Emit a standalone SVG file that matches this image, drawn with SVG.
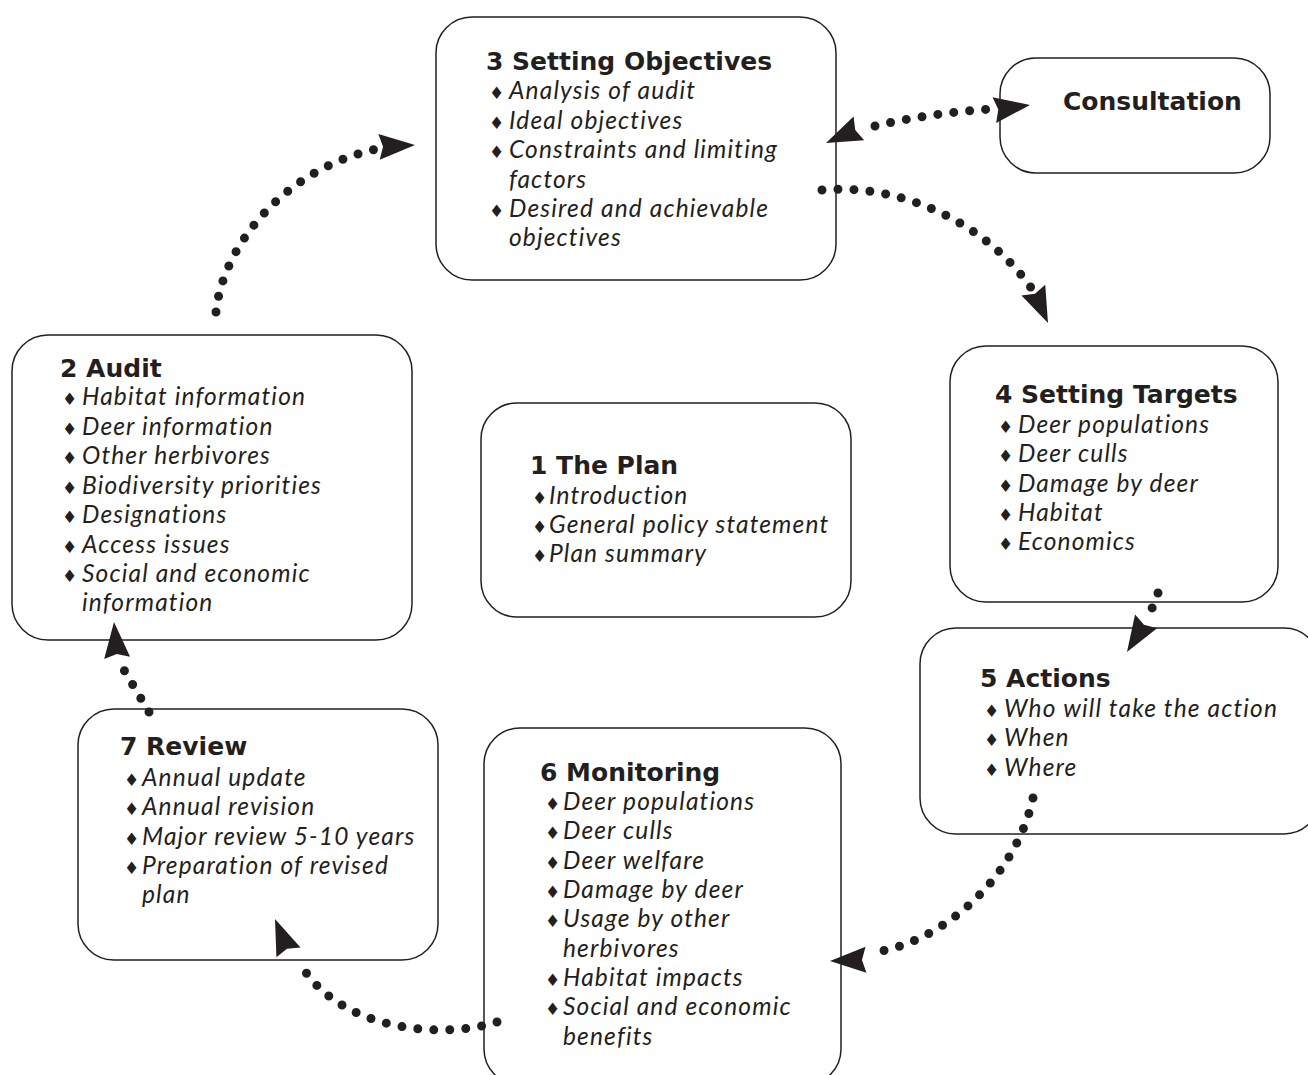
<svg xmlns="http://www.w3.org/2000/svg" xmlns:xlink="http://www.w3.org/1999/xlink" width="1308" height="1075" viewBox="0 0 1308 1075">
<style>
.box{fill:#fff;stroke:#231f20;stroke-width:1.5}
.t{font-family:"DejaVu Sans","Open Sans",sans-serif;font-weight:bold;font-size:25px;fill:#231f20}
.i{font-family:Lato,"Open Sans","Liberation Sans",sans-serif;font-style:italic;font-size:24.5px;letter-spacing:1.15px;fill:#231f20}
.b{font-family:"DejaVu Sans",sans-serif;font-style:normal;font-size:17px;letter-spacing:0}
.dot{fill:none;stroke:#231f20;stroke-width:9;stroke-linecap:round;stroke-dasharray:0 16}
.ah{fill:#231f20}
</style>
<defs>
<path id="ah" d="M0,0 L-36,-13 L-32,0 L-36,13 Z"/>
</defs>
<rect width="1308" height="1075" fill="#fff"/>

<g id="node3">
<rect class="box" x="436" y="17" width="400" height="263" rx="36"/>
<text class="t" x="486" y="70">3 Setting Objectives</text>
<text class="i" y="99"><tspan class="b" x="489">♦</tspan><tspan x="509">Analysis of audit</tspan></text>
<text class="i" y="129"><tspan class="b" x="489">♦</tspan><tspan x="509">Ideal objectives</tspan></text>
<text class="i" y="158"><tspan class="b" x="489">♦</tspan><tspan x="509">Constraints and limiting</tspan></text>
<text class="i" x="509" y="188">factors</text>
<text class="i" y="217"><tspan class="b" x="489">♦</tspan><tspan x="509">Desired and achievable</tspan></text>
<text class="i" x="509" y="246">objectives</text>
</g>

<g id="consultation">
<rect class="box" x="1000" y="58" width="270" height="115" rx="36"/>
<text class="t" x="1063" y="110">Consultation</text>
</g>

<g id="node2">
<rect class="box" x="12" y="335" width="400" height="305" rx="36"/>
<text class="t" x="60" y="377">2 Audit</text>
<text class="i" y="405"><tspan class="b" x="62">♦</tspan><tspan x="82">Habitat information</tspan></text>
<text class="i" y="435"><tspan class="b" x="62">♦</tspan><tspan x="82">Deer information</tspan></text>
<text class="i" y="464"><tspan class="b" x="62">♦</tspan><tspan x="82">Other herbivores</tspan></text>
<text class="i" y="494"><tspan class="b" x="62">♦</tspan><tspan x="82">Biodiversity priorities</tspan></text>
<text class="i" y="523"><tspan class="b" x="62">♦</tspan><tspan x="82">Designations</tspan></text>
<text class="i" y="553"><tspan class="b" x="62">♦</tspan><tspan x="82">Access issues</tspan></text>
<text class="i" y="582"><tspan class="b" x="62">♦</tspan><tspan x="82">Social and economic</tspan></text>
<text class="i" x="82" y="611">information</text>
</g>

<g id="node1">
<rect class="box" x="481" y="403" width="370" height="214" rx="36"/>
<text class="t" x="530" y="474">1 The Plan</text>
<text class="i" y="504"><tspan class="b" x="532">♦</tspan><tspan x="549">Introduction</tspan></text>
<text class="i" y="533"><tspan class="b" x="532">♦</tspan><tspan x="549">General policy statement</tspan></text>
<text class="i" y="562"><tspan class="b" x="532">♦</tspan><tspan x="549">Plan summary</tspan></text>
</g>

<g id="node4">
<rect class="box" x="950" y="346" width="328" height="256" rx="36"/>
<text class="t" x="995" y="403">4 Setting Targets</text>
<text class="i" y="433"><tspan class="b" x="998">♦</tspan><tspan x="1018">Deer populations</tspan></text>
<text class="i" y="462"><tspan class="b" x="998">♦</tspan><tspan x="1018">Deer culls</tspan></text>
<text class="i" y="492"><tspan class="b" x="998">♦</tspan><tspan x="1018">Damage by deer</tspan></text>
<text class="i" y="521"><tspan class="b" x="998">♦</tspan><tspan x="1018">Habitat</tspan></text>
<text class="i" y="550"><tspan class="b" x="998">♦</tspan><tspan x="1018">Economics</tspan></text>
</g>

<g id="node5">
<rect class="box" x="920" y="628" width="400" height="206" rx="36"/>
<text class="t" x="980" y="687">5 Actions</text>
<text class="i" y="717"><tspan class="b" x="984">♦</tspan><tspan x="1004">Who will take the action</tspan></text>
<text class="i" y="746"><tspan class="b" x="984">♦</tspan><tspan x="1004">When</tspan></text>
<text class="i" y="776"><tspan class="b" x="984">♦</tspan><tspan x="1004">Where</tspan></text>
</g>

<g id="node7">
<rect class="box" x="78" y="709" width="360" height="251" rx="36"/>
<text class="t" x="120" y="755">7 Review</text>
<text class="i" y="786"><tspan class="b" x="124">♦</tspan><tspan x="142">Annual update</tspan></text>
<text class="i" y="815"><tspan class="b" x="124">♦</tspan><tspan x="142">Annual revision</tspan></text>
<text class="i" y="845"><tspan class="b" x="124">♦</tspan><tspan x="142">Major review 5-10 years</tspan></text>
<text class="i" y="874"><tspan class="b" x="124">♦</tspan><tspan x="142">Preparation of revised</tspan></text>
<text class="i" x="142" y="903">plan</text>
</g>

<g id="node6">
<rect class="box" x="484" y="728" width="357" height="357" rx="36"/>
<text class="t" x="540" y="781">6 Monitoring</text>
<text class="i" y="810"><tspan class="b" x="545">♦</tspan><tspan x="563">Deer populations</tspan></text>
<text class="i" y="839"><tspan class="b" x="545">♦</tspan><tspan x="563">Deer culls</tspan></text>
<text class="i" y="869"><tspan class="b" x="545">♦</tspan><tspan x="563">Deer welfare</tspan></text>
<text class="i" y="898"><tspan class="b" x="545">♦</tspan><tspan x="563">Damage by deer</tspan></text>
<text class="i" y="927"><tspan class="b" x="545">♦</tspan><tspan x="563">Usage by other</tspan></text>
<text class="i" x="563" y="957">herbivores</text>
<text class="i" y="986"><tspan class="b" x="545">♦</tspan><tspan x="563">Habitat impacts</tspan></text>
<text class="i" y="1015"><tspan class="b" x="545">♦</tspan><tspan x="563">Social and economic</tspan></text>
<text class="i" x="563" y="1045">benefits</text>
</g>

<g id="connectors">
<path class="dot" d="M216,312 C222,250 280,170 377,149"/>
<use xlink:href="#ah" class="ah" transform="translate(415,145) rotate(-3)"/>
<path class="dot" d="M875,126 Q930,113 992,109"/>
<use xlink:href="#ah" class="ah" transform="translate(1030,105) rotate(-8)"/>
<use xlink:href="#ah" class="ah" transform="translate(826,143) rotate(156)"/>
<path class="dot" d="M822,190 C900,183 985,222 1032,289"/>
<use xlink:href="#ah" class="ah" transform="translate(1048,323) rotate(66)"/>
<path class="dot" d="M1158,593 L1147,621"/>
<use xlink:href="#ah" class="ah" transform="translate(1127,652) rotate(122)"/>
<path class="dot" d="M1033,798 C1015,880 940,945 869,953"/>
<use xlink:href="#ah" class="ah" transform="translate(830,961) rotate(178)"/>
<path class="dot" d="M497,1022 C440,1040 340,1030 301,965"/>
<use xlink:href="#ah" class="ah" transform="translate(275,919) rotate(-112)"/>
<path class="dot" d="M149,712 L124,670"/>
<use xlink:href="#ah" class="ah" transform="translate(114,622) rotate(-95)"/>
</g>
</svg>
